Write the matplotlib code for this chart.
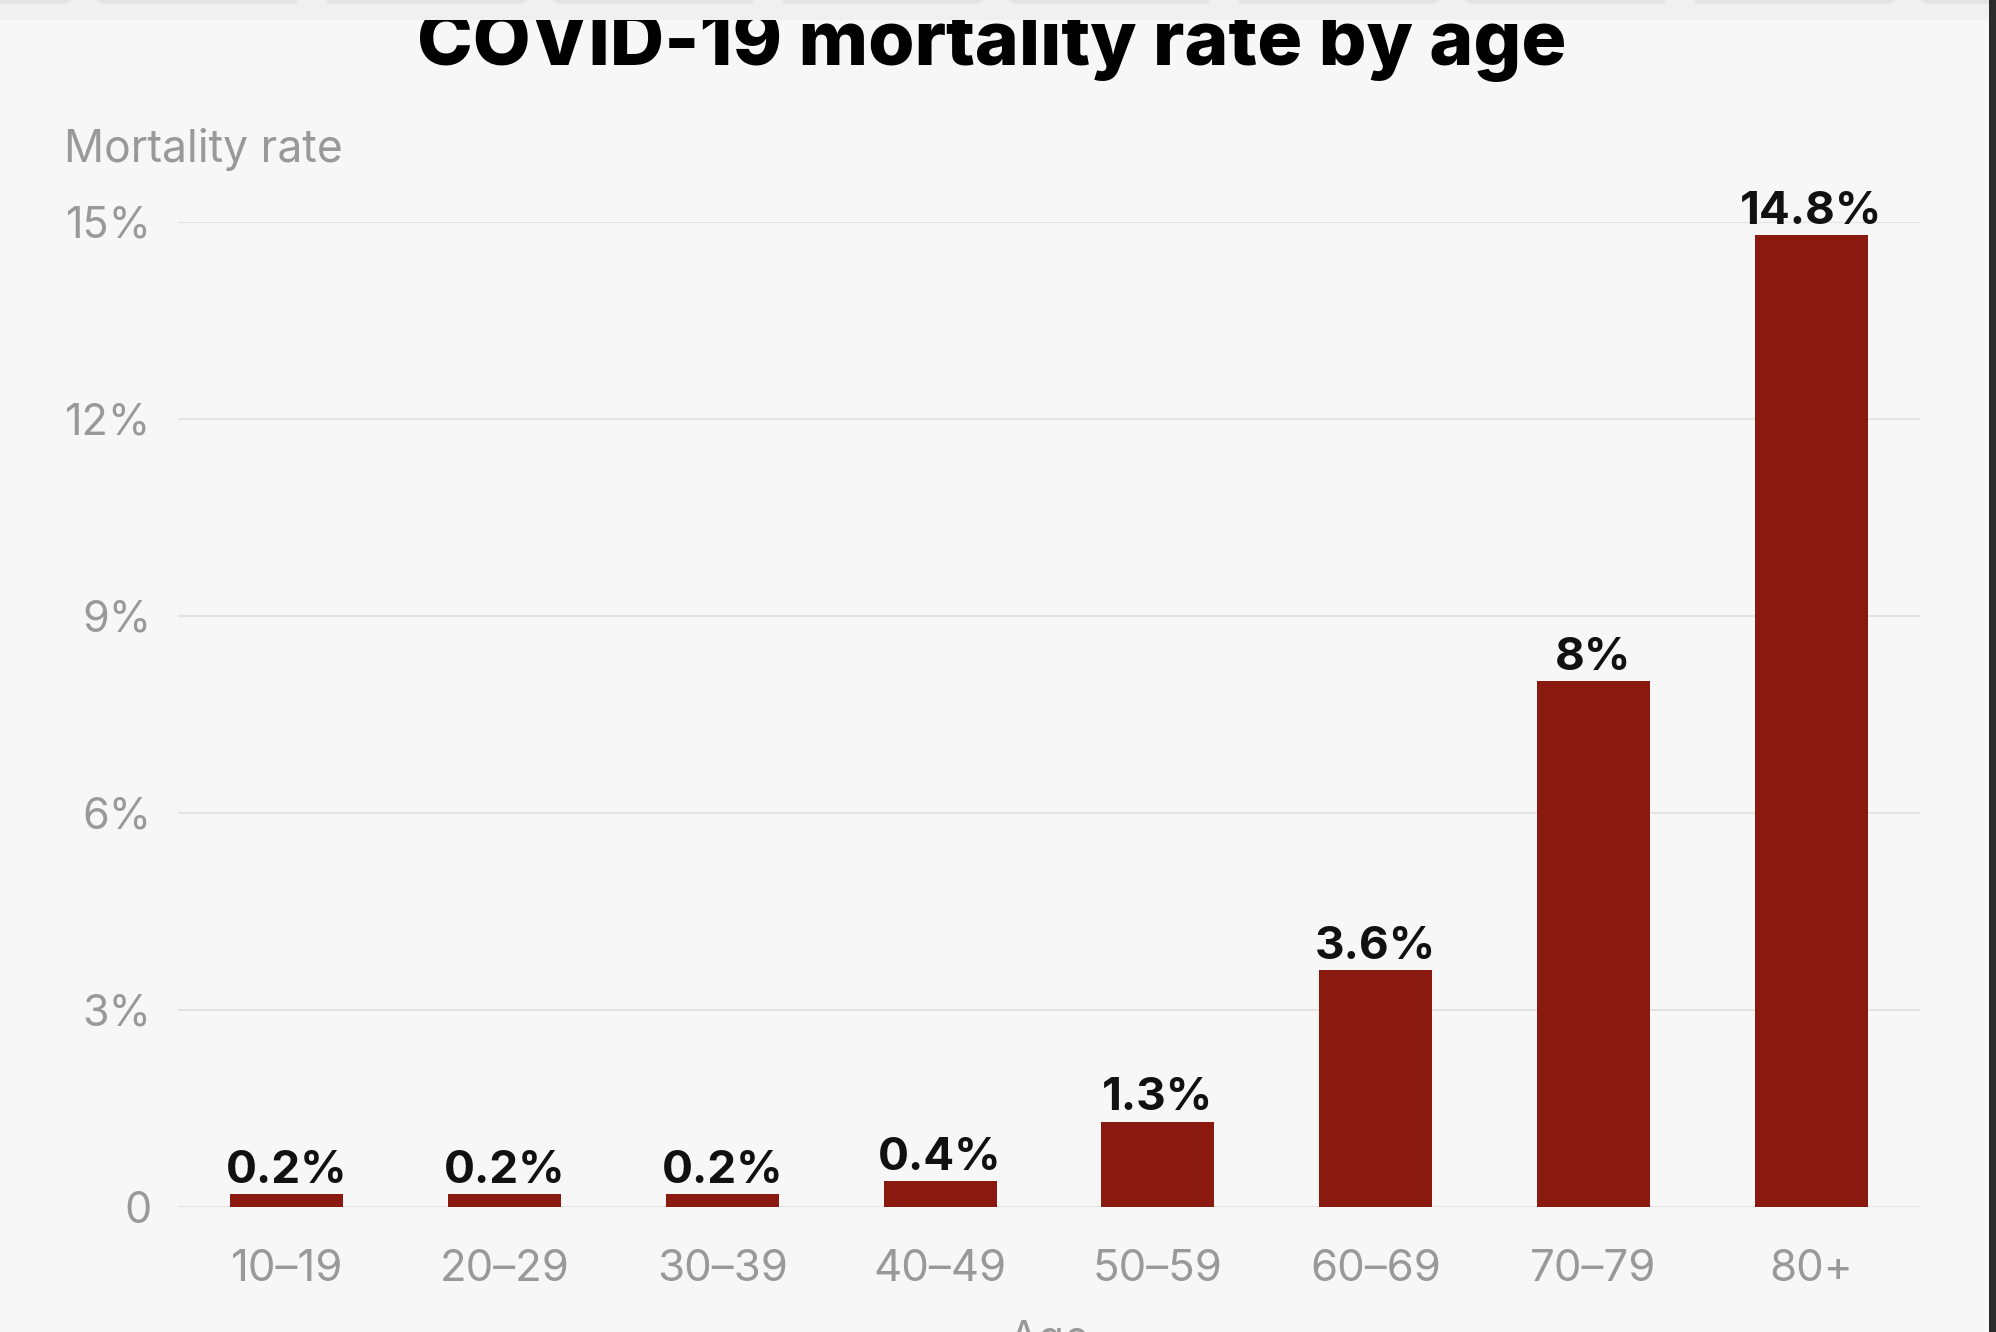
import matplotlib
matplotlib.use("Agg")
import matplotlib.pyplot as plt
from matplotlib.patches import Rectangle, FancyBboxPatch

# ---- data ----
age_groups = ["10–19", "20–29", "30–39", "40–49", "50–59", "60–69", "70–79", "80+"]
mortality = [0.2, 0.2, 0.2, 0.4, 1.3, 3.6, 8.0, 14.8]
value_labels = ["0.2%", "0.2%", "0.2%", "0.4%", "1.3%", "3.6%", "8%", "14.8%"]
y_ticks = [0, 3, 6, 9, 12, 15]
y_tick_labels = ["0", "3%", "6%", "9%", "12%", "15%"]
title = "COVID-19 mortality rate by age"
y_title = "Mortality rate"
x_title = "Age"

plt.rcParams['font.family'] = ['Inter', 'DejaVu Sans']

W, H = 1996, 1332
DPI = 100
BG = "#f7f7f7"
BAR = "#8a1a10"
GRAY = "#999999"

fig = plt.figure(figsize=(W / DPI, H / DPI), dpi=DPI, facecolor=BG)
ax = fig.add_axes([178 / W, (H - 1207) / H, (1920 - 178) / W, (1207 - 221.5) / H])
ax.set_facecolor(BG)

x = list(range(len(age_groups)))
bars = ax.bar(x, mortality, width=0.52, color=BAR, zorder=3)

ax.set_xlim(-0.5, len(age_groups) - 0.5)
ax.set_ylim(0, 15)
ax.set_yticks(y_ticks)
ax.set_yticklabels(y_tick_labels)
ax.set_xticks(x)
ax.set_xticklabels(age_groups)
ax.tick_params(axis='y', length=0, pad=19, labelsize=31, labelcolor=GRAY)
ax.tick_params(axis='x', length=0, pad=30, labelsize=31.5, labelcolor=GRAY)
for s in ax.spines.values():
    s.set_visible(False)
ax.grid(axis='y', color="#e3e3e3", linewidth=1.5, zorder=0)
ax.set_axisbelow(True)

for xi, v, lab in zip(x, mortality, value_labels):
    ax.annotate(lab, xy=(xi, v), xytext=(0, 8), textcoords='offset points',
                ha='center', va='baseline', fontsize=33, fontweight='bold',
                color='#111111', annotation_clip=False, zorder=4)

ax.set_xlabel(x_title, fontsize=31, color=GRAY, labelpad=22)

fig.text(64 / W, (H - 162) / H, y_title, ha='left', va='baseline',
         fontsize=32, color=GRAY)

fig.text(992 / W, (H - 65) / H, title, ha='center', va='baseline',
         fontsize=54, fontweight='heavy', color='black', zorder=1)

# browser-like top strip with tabs
fig.patches.append(Rectangle((0, (H - 20) / H), 1, 20 / H, transform=fig.transFigure,
                             facecolor="#f0f0f0", edgecolor='none', zorder=5))
for i in range(10):
    x0 = (-130 + i * 228) / W
    fig.patches.append(FancyBboxPatch((x0, (H - 4) / H), 200 / W, 8 / H,
                                      boxstyle="round,pad=0,rounding_size=0.004",
                                      transform=fig.transFigure, facecolor="#e4e4e4",
                                      edgecolor='none', zorder=6))
# dark right edge
fig.patches.append(Rectangle(((W - 7) / W, 0), 7 / W, 1, transform=fig.transFigure,
                             facecolor="#2b2b2b", edgecolor='none', zorder=7))

fig.savefig("out.png", dpi=DPI, facecolor=BG)
